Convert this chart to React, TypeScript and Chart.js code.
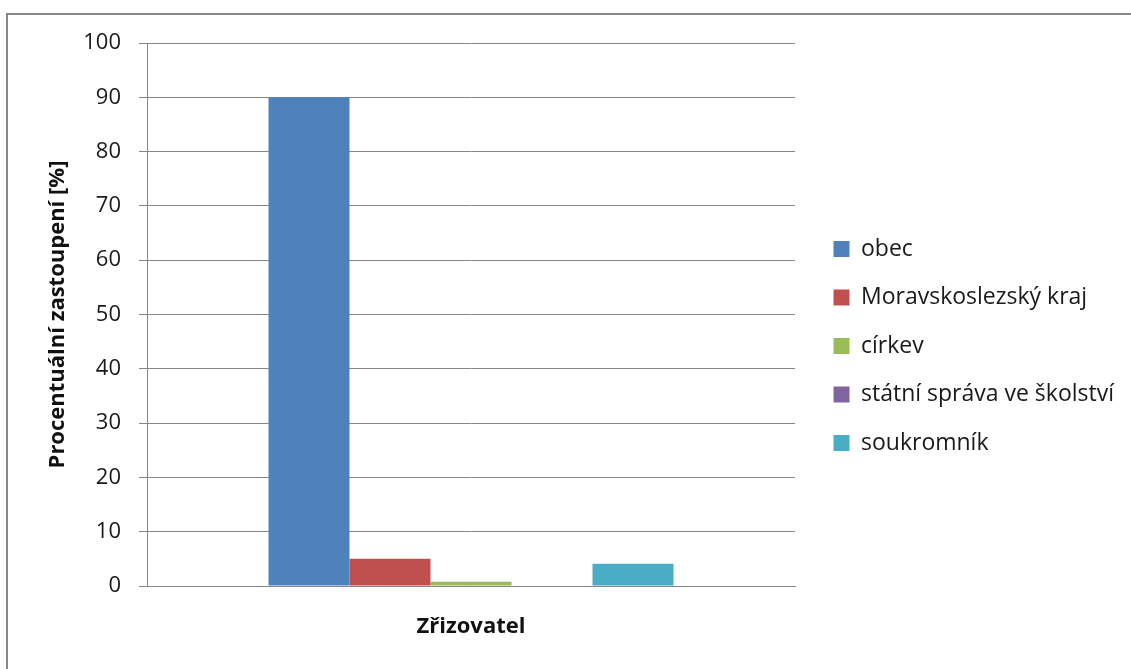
import { useEffect, useRef } from "react";
import { Chart, registerables } from "chart.js";

Chart.register(...registerables);

// Category and series data
const categories = ["Zřizovatel"];
const seriesNames = [
  "obec",
  "Moravskoslezský kraj",
  "církev",
  "státní správa ve školství",
  "soukromník",
];
const obec = [90];
const moravskoslezskyKraj = [5];
const cirkev = [0.8];
const statniSprava = [0];
const soukromnik = [4.1];
const seriesColors = ["#4F81BD", "#C0504D", "#9BBB59", "#8064A2", "#4BACC6"];

const yMin = 0;
const yMax = 100;
const yStep = 10;

const FONT = "'Open Sans', Lato, sans-serif";
const GRID = "#868686";
const LEGEND_PAD = 25.5;
const LEGEND_GAP = 38.5;

// Places the legend a fixed distance right of the plot area and lets it run to the canvas edge
const legendOffset = {
  id: "legendOffset",
  afterLayout(chart: any) {
    const legend = chart.legend;
    if (!legend) return;
    legend.left = chart.chartArea.right + LEGEND_GAP - LEGEND_PAD;
    legend.right = chart.width;
    legend.width = legend.right - legend.left;
  },
};

export default function App() {
  const ref = useRef<HTMLCanvasElement>(null);

  useEffect(() => {
    const values = [obec, moravskoslezskyKraj, cirkev, statniSprava, soukromnik];
    const chart = new Chart(ref.current!, {
      type: "bar",
      data: {
        labels: categories,
        datasets: seriesNames.map((name, i) => ({
          label: name,
          data: values[i],
          backgroundColor: seriesColors[i],
          borderWidth: 0,
        })),
      },
      options: {
        animation: false,
        responsive: false,
        devicePixelRatio: 1,
        layout: { padding: { top: 43, bottom: 20, left: 0, right: 236 } },
        datasets: { bar: { categoryPercentage: 0.625, barPercentage: 1 } },
        plugins: {
          tooltip: { enabled: false },
          legend: {
            position: "right",
            align: "center",
            maxWidth: 100,
            labels: {
              boxWidth: 16,
              boxHeight: 16,
              padding: LEGEND_PAD,
              color: "#1a1a1a",
              font: { family: FONT, size: 23 },
            },
          },
        },
        scales: {
          x: {
            grid: { display: false, drawTicks: false },
            border: { display: true, color: GRID, width: 1 },
            ticks: {
              padding: 28,
              color: "#111",
              font: { family: FONT, size: 22, weight: "bold", lineHeight: 1.2 },
            },
            afterFit(scale: any) {
              scale.height = 63;
            },
          },
          y: {
            min: yMin,
            max: yMax,
            ticks: {
              stepSize: yStep,
              padding: 18,
              color: "#1a1a1a",
              font: { family: FONT, size: 22 },
            },
            grid: { color: GRID, lineWidth: 1, tickLength: 8, drawTicks: true },
            border: { display: true, color: GRID, width: 1 },
            title: {
              display: true,
              text: "Procentuální zastoupení [%]",
              color: "#111",
              font: { family: FONT, size: 22, weight: "bold", lineHeight: 1.2 },
              padding: { top: 45, bottom: 0 },
            },
            afterFit(scale: any) {
              scale.width = 147;
            },
          },
        },
      },
      plugins: [legendOffset],
    });
    return () => chart.destroy();
  }, []);

  return (
    <div
      style={{
        position: "fixed",
        left: 0,
        top: 0,
        width: 1131,
        height: 669,
        background: "#fff",
        overflow: "hidden",
      }}
    >
      <div
        style={{
          position: "absolute",
          left: 6,
          top: 13,
          width: 1300,
          height: 800,
          borderLeft: "2px solid #878787",
          borderTop: "2px solid #878787",
        }}
      />
      <canvas
        ref={ref}
        width={1131}
        height={669}
        style={{ position: "absolute", left: 0, top: 0 }}
      />
    </div>
  );
}
